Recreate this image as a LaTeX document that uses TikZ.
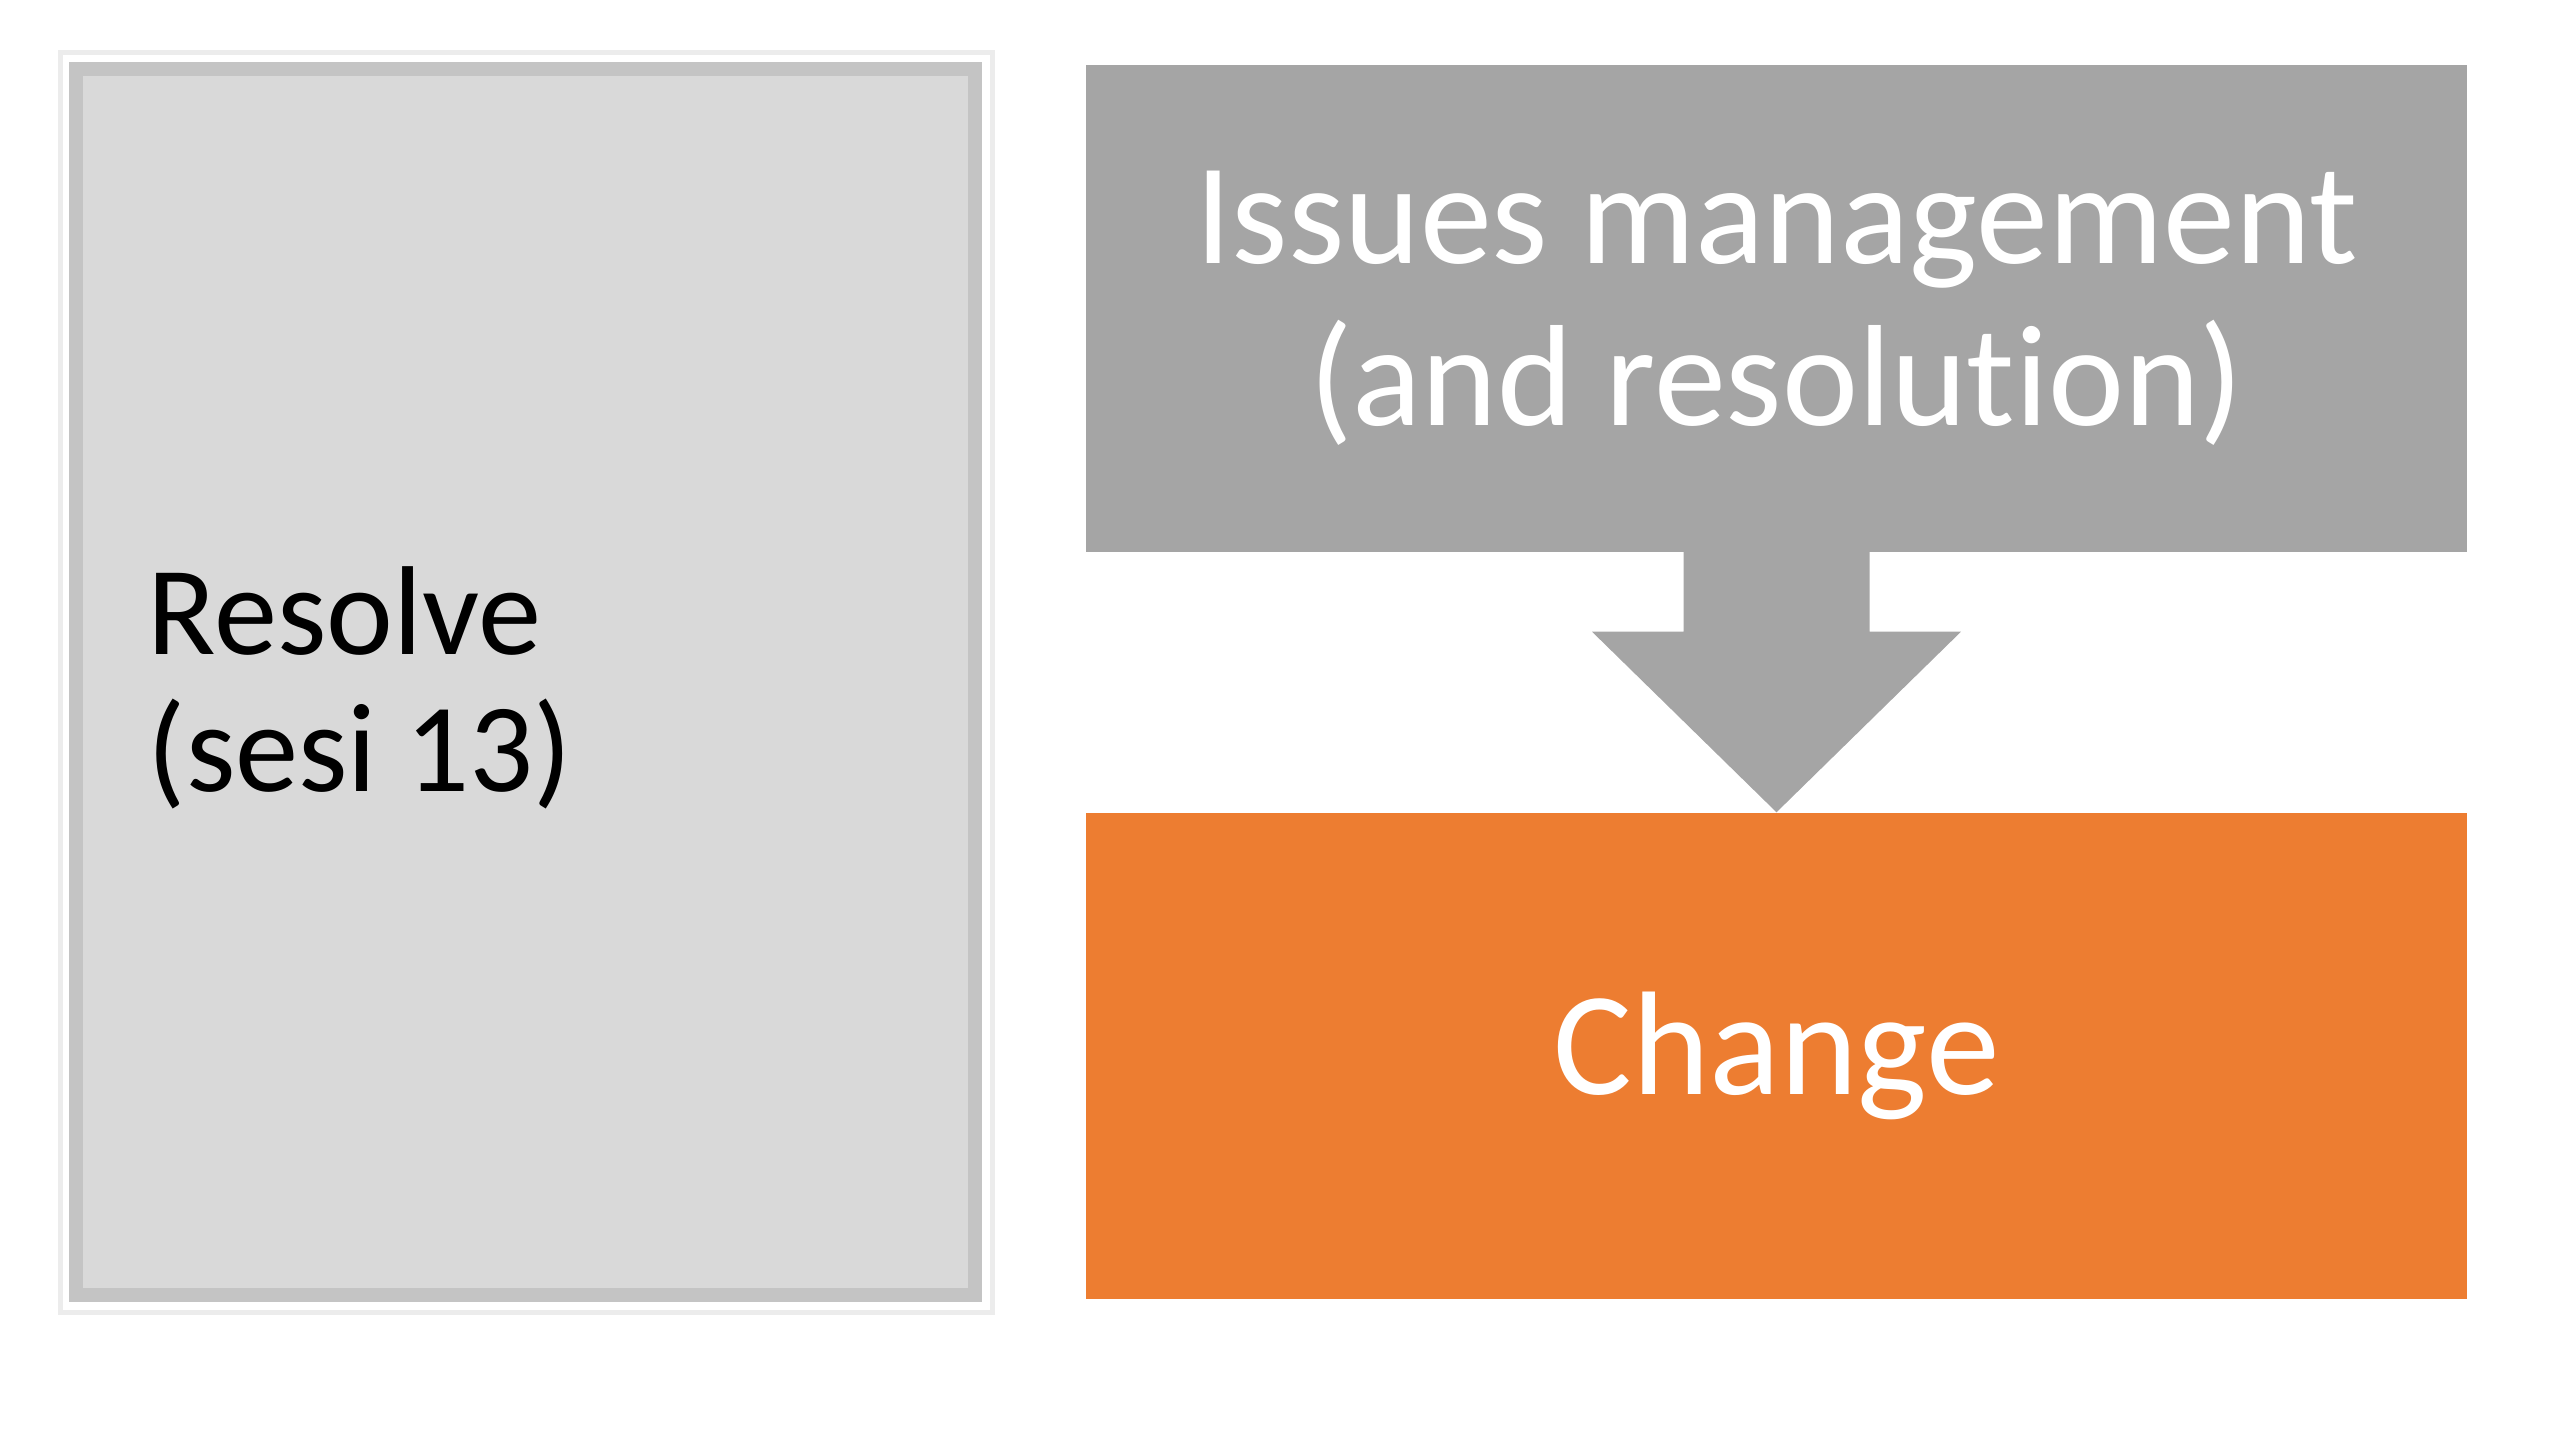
\documentclass[tikz,border=0pt]{standalone}
\usepackage{fontspec}
\setmainfont{Carlito}[Ligatures=NoCommon]
\usetikzlibrary{calc}

\definecolor{boxgray}{HTML}{A5A5A5}
\definecolor{boxorange}{HTML}{ED7D31}
\definecolor{panelfill}{HTML}{D9D9D9}
\definecolor{panelrim}{HTML}{C4C4C4}
\definecolor{panelglow}{HTML}{ECECEC}

\tikzset{
    flowbox/.style={rectangle, minimum width=13.81cm, minimum height=4.87cm, inner sep=0pt, text=white, align=center},
}

\begin{document}
\begin{tikzpicture}
                \useasboundingbox (0,0) rectangle (25.6,14.4);
                % left panel
                \draw[panelglow, line width=0.05cm] (0.605,1.275) rectangle (9.925,13.875);
                \draw[panelrim, fill=panelfill, line width=0.14cm] (0.76,1.45) rectangle (9.745,13.705);
                \node[anchor=west, inner sep=0pt, align=left, font=\fontsize{36}{39}\selectfont] (resolve) at (1.47,7.52) {Resolve\\(sesi 13)};
                % right column
                \node[flowbox, fill=boxgray, font=\fontsize{41}{46}\selectfont] (issues) at (17.765,11.315) {Issues management\\(and resolution)};
                \node[flowbox, fill=boxorange, minimum height=4.86cm, font=\fontsize{42}{46}\selectfont] (change) at (17.765,3.84) {Change};
                % arrow between them
                \fill[boxgray] ($(issues.south)+(-0.93,0.02)$) -- ++(0,-0.81) -- ++(-0.915,0)
                    -- (change.north) -- ($(issues.south)+(1.845,-0.79)$) -- ++(-0.915,0) -- ($(issues.south)+(0.93,0.02)$) -- cycle;
            \end{tikzpicture}
\end{document}
